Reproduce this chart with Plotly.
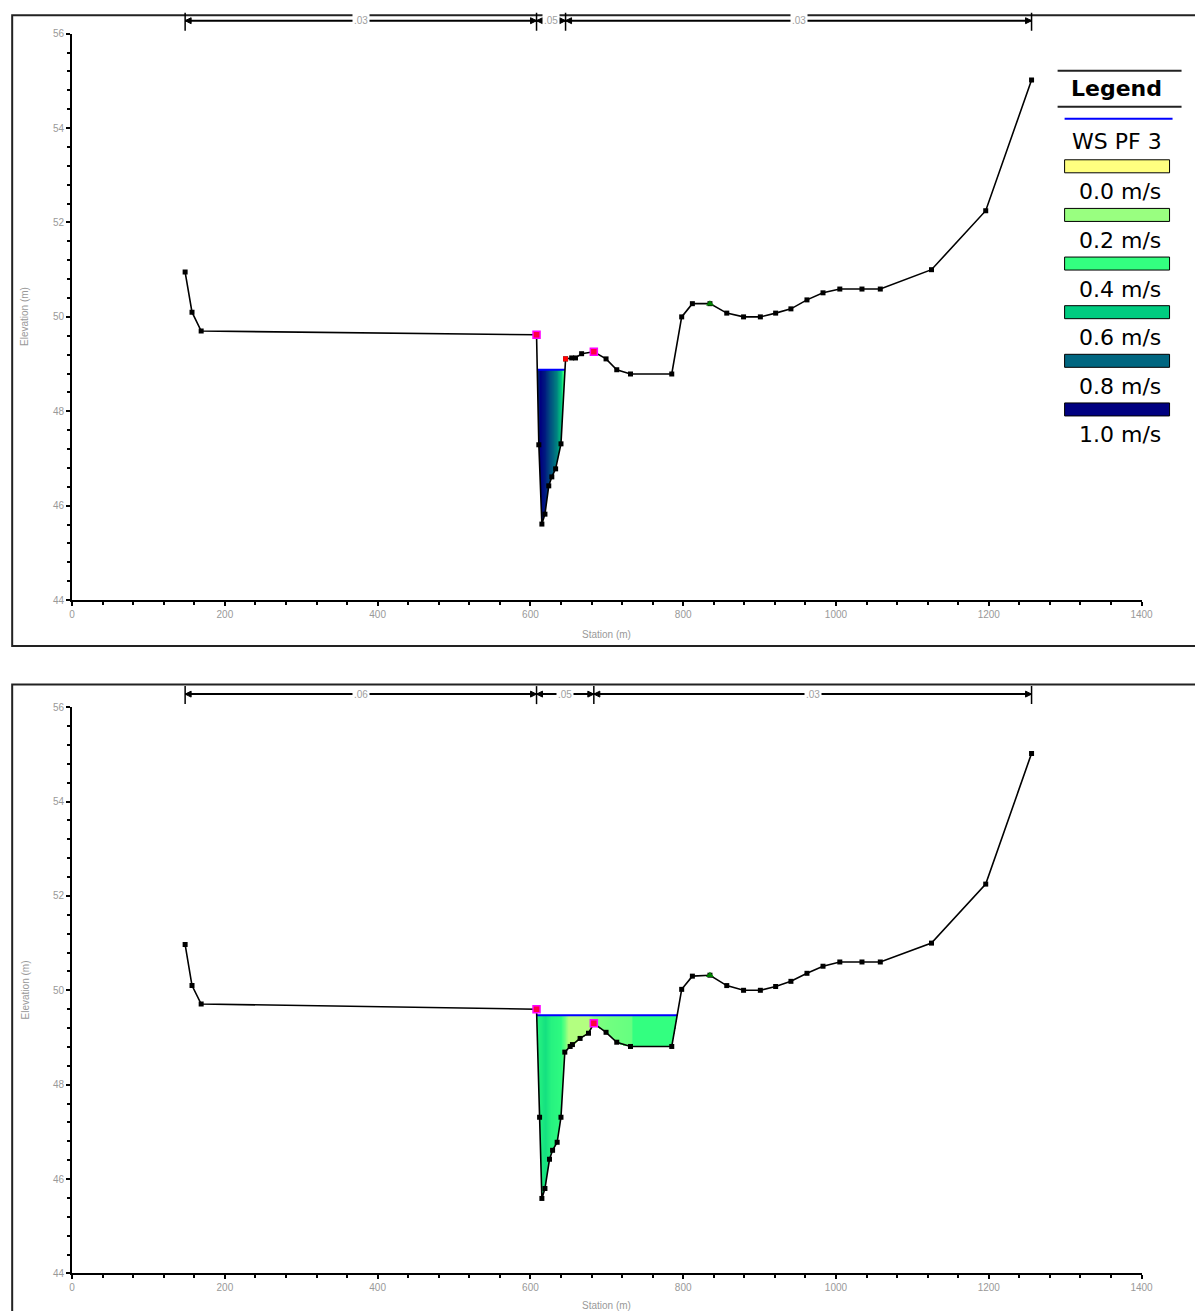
import numpy as np
import plotly.graph_objects as go

W, H = 1203, 1311

# ---------------- data ----------------
# Upper cross section: ground (station m, elevation m)
top_sta = [148, 157, 169, 608, 611, 615, 619, 624, 628, 633, 640, 646, 654, 659, 667,
           683, 699, 713, 731, 785, 798, 812, 835, 857, 879, 901, 921, 941, 962, 983,
           1005, 1034, 1058, 1125, 1196, 1256]
top_elev = [50.95, 50.1, 49.7, 49.62, 47.29, 45.61, 45.82, 46.42, 46.61, 46.78, 47.31,
            49.11, 49.13, 49.13, 49.22, 49.26, 49.11, 48.88, 48.79, 48.79, 50.0, 50.28,
            50.28, 50.08, 50.0, 50.0, 50.08, 50.17, 50.36, 50.51, 50.59, 50.59, 50.59,
            51.0, 52.25, 55.02]
top_ws = 48.88
top_vel_sta = [608, 610, 613, 619, 625, 634, 640, 643, 646]
top_vel = [0.3, 0.9, 1.0, 0.95, 0.86, 0.75, 0.62, 0.4, 0.25]
top_bank_sta = [608, 683]
top_bank_elev = [49.62, 49.26]
top_rb_sta = [646]
top_rb_elev = [49.11]
top_n_sta = [148, 608, 646, 1256]
top_n_vals = [".03", ".05", ".03"]

# Lower cross section
bot_sta = [148, 157, 169, 608, 612, 615, 619, 625, 629, 635, 640, 645, 652, 655, 665,
           676, 683, 699, 713, 731, 785, 798, 812, 835, 857, 879, 901, 921, 941, 962,
           983, 1005, 1034, 1058, 1125, 1196, 1256]
bot_elev = [50.97, 50.1, 49.71, 49.6, 47.31, 45.59, 45.8, 46.42, 46.61, 46.78, 47.31,
            48.69, 48.81, 48.85, 48.98, 49.09, 49.3, 49.11, 48.9, 48.81, 48.81, 50.02,
            50.3, 50.32, 50.1, 50.0, 50.0, 50.08, 50.19, 50.36, 50.51, 50.6, 50.6, 50.6,
            51.0, 52.25, 55.02]
bot_ws = 49.47
bot_vel_sta = [608, 613, 620, 627, 640, 645, 650, 676, 680, 684, 704, 732, 734, 792]
bot_vel = [0.42, 0.47, 0.52, 0.45, 0.42, 0.3, 0.15, 0.15, 0.2, 0.25, 0.28, 0.3, 0.4, 0.4]
bot_bank_sta = [608, 683]
bot_bank_elev = [49.6, 49.3]
bot_n_sta = [148, 608, 683, 1256]
bot_n_vals = [".06", ".05", ".03"]

levee_sta = [835]
levee_elev_top = [50.28]
levee_elev_bot = [50.32]

legend_vals = [0.0, 0.2, 0.4, 0.6, 0.8, 1.0]
legend_colors = ["#ffff80", "#99ff80", "#33ff80", "#00cc80", "#006680", "#000080"]
ws_label = "WS PF 3"

# ---------------- helpers ----------------
# screen-pixel -> figure-pixel correction (measured from the rendered page)
SX0, SXK = 10.9, 0.988
SY0, SYK = 13.3, 0.991


def px(x):
    return ((x - SX0) / SXK) / W


def py(y):
    return 1 - ((y - SY0) / SYK) / H


def ws_extent(sta, elev, ws):
    sta = np.asarray(sta, float)
    elev = np.asarray(elev, float)
    i0 = int(np.argmin(elev))
    i = i0
    while elev[i - 1] < ws:
        i -= 1
    xl = sta[i - 1] + (elev[i - 1] - ws) / (elev[i - 1] - elev[i]) * (sta[i] - sta[i - 1])
    j = i0
    while elev[j + 1] < ws:
        j += 1
    xr = sta[j] + (ws - elev[j]) / (elev[j + 1] - elev[j]) * (sta[j + 1] - sta[j])
    return xl, xr


colorscale = [[v, c] for v, c in zip(legend_vals, legend_colors)]

fig = go.Figure()


def add_section(sta, elev, ws, vsta, vel, xa, ya):
    xl, xr = ws_extent(sta, elev, ws)
    dx, dy = 0.4, 0.02
    xs = np.arange(xl, xr, dx) + dx / 2
    ys = np.arange(min(elev), ws, dy) + dy / 2
    g = np.interp(xs, sta, elev)
    v = np.interp(xs, vsta, vel)
    Z = np.where(ys[:, None] >= g[None, :] - dy, np.tile(v, (len(ys), 1)), np.nan)
    fig.add_trace(go.Heatmap(x=xs, y=ys, z=Z, colorscale=colorscale, zmin=0, zmax=1,
                             showscale=False, hoverinfo="skip", xaxis=xa, yaxis=ya))
    fig.add_trace(go.Scatter(x=[xl, xr], y=[ws, ws], mode="lines",
                             line=dict(color="#0000ff", width=2),
                             xaxis=xa, yaxis=ya, showlegend=False, hoverinfo="skip"))
    fig.add_trace(go.Scatter(x=sta, y=elev, mode="lines+markers",
                             line=dict(color="black", width=1.6),
                             marker=dict(symbol="square", size=5, color="black"),
                             xaxis=xa, yaxis=ya, showlegend=False))


add_section(top_sta, top_elev, top_ws, top_vel_sta, top_vel, "x", "y")
add_section(bot_sta, bot_elev, bot_ws, bot_vel_sta, bot_vel, "x2", "y2")

# bank / special markers
for xa, ya, bs, be, le in [("x", "y", top_bank_sta, top_bank_elev, levee_elev_top),
                           ("x2", "y2", bot_bank_sta, bot_bank_elev, levee_elev_bot)]:
    fig.add_trace(go.Scatter(x=bs, y=be, mode="markers",
                             marker=dict(symbol="square", size=7, color="#ff0040",
                                         line=dict(color="#ff00ff", width=1.5)),
                             xaxis=xa, yaxis=ya, showlegend=False))
    fig.add_trace(go.Scatter(x=levee_sta, y=le, mode="markers",
                             marker=dict(symbol="triangle-up", size=7, color="#008000"),
                             xaxis=xa, yaxis=ya, showlegend=False))
fig.add_trace(go.Scatter(x=top_rb_sta, y=top_rb_elev, mode="markers",
                         marker=dict(symbol="square", size=5, color="#ff0000"),
                         xaxis="x", yaxis="y", showlegend=False))

shapes = []
annotations = []

# panel frames
FL = 1.2 / W  # left edge just inside the page
for y0, y1 in [(14.5, 645), (683.5, 1340)]:
    shapes.append(dict(type="rect", xref="paper", yref="paper",
                       x0=FL, x1=px(1240), y0=py(y1), y1=min(py(y0), 1 - 1.2 / H),
                       line=dict(color="#222", width=2)))


# Manning's n bars
def n_bar(nsta, nvals, ybar, xa):
    yb = py(ybar)
    shapes.append(dict(type="line", xref=xa, yref="paper", x0=nsta[0], x1=nsta[-1],
                       y0=yb, y1=yb, line=dict(color="black", width=2)))
    for s in nsta:
        shapes.append(dict(type="line", xref=xa, yref="paper", x0=s, x1=s,
                           y0=py(ybar + 10), y1=py(ybar - 8), line=dict(color="black", width=1.5)))
    ah_w = 6 / 0.7643
    ah_h = 3 / H
    for a, b, lab in zip(nsta[:-1], nsta[1:], nvals):
        shapes.append(dict(type="path", xref=xa, yref="paper",
                           path=f"M {a} {yb} L {a + ah_w} {yb + ah_h} L {a + ah_w} {yb - ah_h} Z",
                           fillcolor="black", line=dict(color="black", width=1)))
        shapes.append(dict(type="path", xref=xa, yref="paper",
                           path=f"M {b} {yb} L {b - ah_w} {yb + ah_h} L {b - ah_w} {yb - ah_h} Z",
                           fillcolor="black", line=dict(color="black", width=1)))
        annotations.append(dict(x=(a + b) / 2, y=yb, xref=xa, yref="paper", text=lab,
                                xanchor="center", yanchor="middle",
                                showarrow=False, bgcolor="white", borderpad=1,
                                font=dict(family="Liberation Sans, Arial", size=10, color="#a0a0a0")))


n_bar(top_n_sta, top_n_vals, 20, "x")
n_bar(bot_n_sta, bot_n_vals, 693, "x2")

# axis titles
for ylab_c, xlab_y in [(316, 633), (989, 1304)]:
    annotations.append(dict(x=px(607), y=py(xlab_y), xref="paper", yref="paper",
                            text="Station (m)", showarrow=False,
                            xanchor="center", yanchor="middle",
                            font=dict(family="Liberation Sans, Arial", size=10, color="#999")))
    annotations.append(dict(x=px(25), y=py(ylab_c), xref="paper", yref="paper",
                            text="Elevation (m)", showarrow=False, textangle=-90,
                            xanchor="center", yanchor="middle",
                            font=dict(family="Liberation Sans, Arial", size=10, color="#999")))

# legend box
shapes.append(dict(type="line", xref="paper", yref="paper", x0=px(1058), x1=px(1182),
                   y0=py(70), y1=py(70), line=dict(color="#222", width=2)))
shapes.append(dict(type="line", xref="paper", yref="paper", x0=px(1058), x1=px(1182),
                   y0=py(106), y1=py(106), line=dict(color="#222", width=2)))
annotations.append(dict(x=px(1117), y=py(88), xref="paper", yref="paper", text="<b>Legend</b>",
                        xanchor="center", yanchor="middle",
                        showarrow=False, font=dict(family="DejaVu Sans", size=22, color="black")))
shapes.append(dict(type="line", xref="paper", yref="paper", x0=px(1065), x1=px(1173),
                   y0=py(118), y1=py(118), line=dict(color="#0000ff", width=2)))
annotations.append(dict(x=px(1117), y=py(141), xref="paper", yref="paper", text=ws_label,
                        xanchor="center", yanchor="middle",
                        showarrow=False, font=dict(family="DejaVu Sans", size=22, color="black")))
for i, (v, c) in enumerate(zip(legend_vals, legend_colors)):
    y0 = 159 + 48.6 * i
    shapes.append(dict(type="rect", xref="paper", yref="paper", x0=px(1065), x1=px(1170),
                       y0=py(y0 + 13), y1=py(y0), fillcolor=c, line=dict(color="black", width=1)))
    annotations.append(dict(x=px(1120), y=py(y0 + 32), xref="paper", yref="paper",
                            text=f"{v:.1f} m/s", showarrow=False,
                            xanchor="center", yanchor="middle",
                            font=dict(family="DejaVu Sans", size=22, color="black")))

tickfont = dict(family="Liberation Sans, Arial", size=10, color="#999")
xax = dict(range=[0, 1400], dtick=200, showline=True, linecolor="black", linewidth=2,
           ticks="outside", ticklen=4, tickcolor="black", tickwidth=1.5, showgrid=False,
           zeroline=False, tickfont=tickfont, domain=[px(72), px(1142)], fixedrange=True,
           minor=dict(dtick=40, ticks="outside", ticklen=3, tickcolor="black", tickwidth=1.5))
yax = dict(range=[44, 56], dtick=2, showline=True, linecolor="black", linewidth=2,
           ticks="outside", ticklen=4, tickcolor="black", tickwidth=1.5, showgrid=False,
           zeroline=False, tickfont=tickfont, fixedrange=True,
           minor=dict(dtick=0.4, ticks="outside", ticklen=3, tickcolor="black", tickwidth=1.5))

fig.update_layout(
    width=W, height=H, margin=dict(l=0, r=0, t=0, b=0),
    paper_bgcolor="white", plot_bgcolor="white", showlegend=False,
    xaxis=dict(xax, anchor="y"),
    yaxis=dict(yax, anchor="x", domain=[py(599), py(33)]),
    xaxis2=dict(xax, anchor="y2"),
    yaxis2=dict(yax, anchor="x2", domain=[py(1272), py(706)]),
    shapes=shapes, annotations=annotations,
)

fig.write_html("out.html")
